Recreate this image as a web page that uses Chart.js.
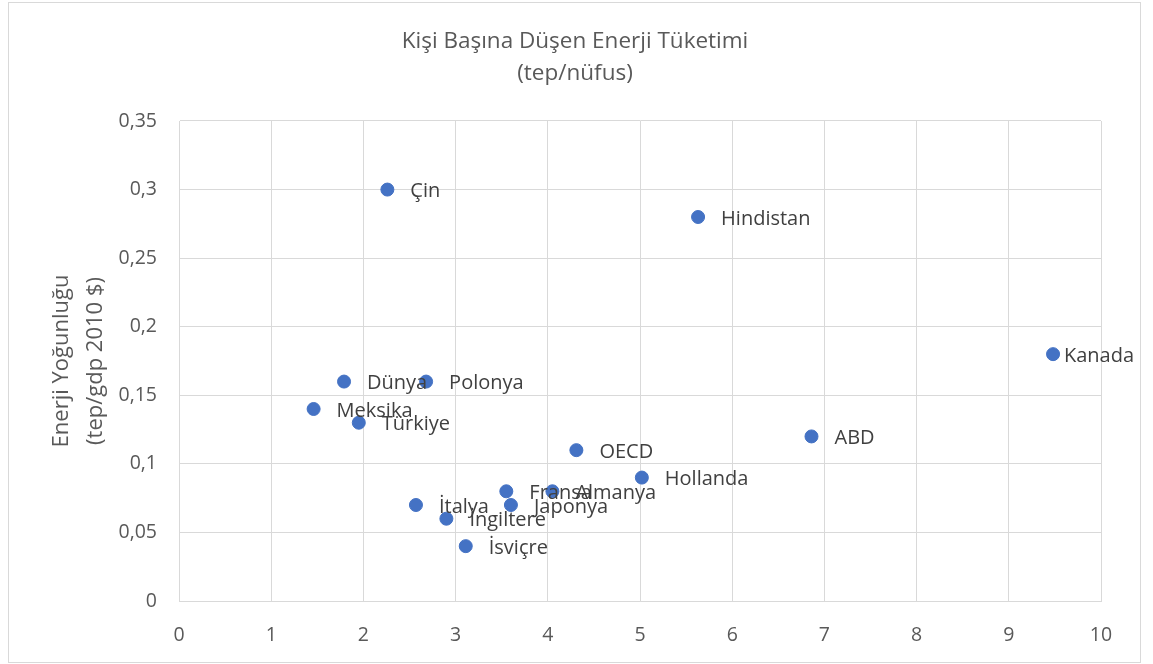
<!DOCTYPE html>
<html>
<head>
<meta charset="utf-8">
<title>Kişi Başına Düşen Enerji Tüketimi</title>
<script src="https://cdn.jsdelivr.net/npm/chart.js"></script>
<style>
  html, body { margin: 0; padding: 0; background: #fff; }
  #wrap { width: 1153px; height: 664px; position: relative; }
</style>
</head>
<body>
<div id="wrap"><canvas id="energyChart"></canvas></div>
<script>
// countries and their values (x: tep/nüfus, y: tep/gdp 2010 $)
const countries = ['Çin', 'Hindistan', 'Kanada', 'Dünya', 'Polonya', 'Meksika', 'Türkiye', 'OECD',
  'ABD', 'Hollanda', 'Fransa', 'Almanya', 'Japonya', 'İtalya', 'İngiltere', 'İsviçre'];
const perCapita = [2.26, 5.63, 9.48, 1.79, 2.68, 1.46, 1.95, 4.31, 6.86, 5.02, 3.55, 4.05, 3.60, 2.57, 2.90, 3.11];
const intensity = [0.30, 0.28, 0.18, 0.16, 0.16, 0.14, 0.13, 0.11, 0.12, 0.09, 0.08, 0.08, 0.07, 0.07, 0.06, 0.04];
const xTicks = ['0', '1', '2', '3', '4', '5', '6', '7', '8', '9', '10'];
const yTicks = ['0', '0,05', '0,1', '0,15', '0,2', '0,25', '0,3', '0,35'];

const FONT = '"Open Sans", "Segoe UI", sans-serif';

// white background, outer border, titles
const frame = {
  id: 'frame',
  beforeDraw(chart) {
    const c = chart.ctx;
    c.save();
    c.fillStyle = '#fff';
    c.fillRect(0, 0, chart.width, chart.height);
    c.strokeStyle = '#d9d9d9';
    c.lineWidth = 1;
    c.strokeRect(8.5, 2.5, 1132, 660);
    c.restore();
  },
  afterDraw(chart) {
    const c = chart.ctx;
    c.save();
    c.fillStyle = '#595959';
    c.textAlign = 'center';
    c.textBaseline = 'middle';
    c.font = '22.5px ' + FONT;
    c.fillText('Kişi Başına Düşen Enerji Tüketimi', 575, 42);
    c.fillText('(tep/nüfus)', 575, 74);
    c.translate(79, 361);
    c.rotate(-Math.PI / 2);
    c.font = '22px ' + FONT;
    c.fillText('Enerji Yoğunluğu', 0, -17);
    c.fillText('(tep/gdp 2010 $)', 0, 17);
    c.restore();
  }
};

// point labels to the right of each marker
const pointLabels = {
  id: 'pointLabels',
  afterDatasetsDraw(chart) {
    const c = chart.ctx;
    const meta = chart.getDatasetMeta(0);
    c.save();
    c.font = '20px ' + FONT;
    c.fillStyle = '#404040';
    c.textBaseline = 'middle';
    meta.data.forEach((pt, i) => {
      const txt = countries[i];
      const w = c.measureText(txt).width;
      let x = pt.x + 23;
      if (x + w > 1134) x = Math.max(pt.x + 9, 1134 - w);
      c.fillText(txt, x, pt.y + 2);
    });
    c.restore();
  }
};

const ctx = document.getElementById('energyChart').getContext('2d');
new Chart(ctx, {
  type: 'scatter',
  data: {
    datasets: [{
      label: 'Enerji',
      data: perCapita.map((v, i) => ({ x: v, y: intensity[i] })),
      backgroundColor: '#4472c4',
      borderColor: '#4472c4',
      pointRadius: 6.5,
      pointHoverRadius: 6.5
    }]
  },
  options: {
    responsive: true,
    maintainAspectRatio: false,
    animation: false,
    layout: { padding: { top: 121, left: 0, right: 52, bottom: 0 } },
    scales: {
      x: {
        type: 'linear',
        min: 0,
        max: 10,
        afterFit(scale) { scale.height = 63; },
        afterBuildTicks(scale) { scale.ticks = xTicks.map((t, i) => ({ value: i })); },
        ticks: {
          color: '#595959',
          font: { family: FONT, size: 19.5 },
          padding: 23,
          callback: (v, i) => xTicks[i]
        },
        grid: { color: '#d9d9d9', drawTicks: false },
        border: { color: '#d9d9d9' }
      },
      y: {
        type: 'linear',
        min: 0,
        max: 0.35,
        afterFit(scale) { scale.width = 179; },
        afterBuildTicks(scale) { scale.ticks = yTicks.map((t, i) => ({ value: i * 0.05 })); },
        ticks: {
          color: '#595959',
          font: { family: FONT, size: 19.5 },
          padding: 22,
          callback: (v, i) => yTicks[i]
        },
        grid: { color: '#d9d9d9', drawTicks: false },
        border: { color: '#d9d9d9' }
      }
    },
    plugins: {
      legend: { display: false },
      title: { display: false },
      tooltip: { enabled: false }
    }
  },
  plugins: [frame, pointLabels]
});
</script>
</body>
</html>
